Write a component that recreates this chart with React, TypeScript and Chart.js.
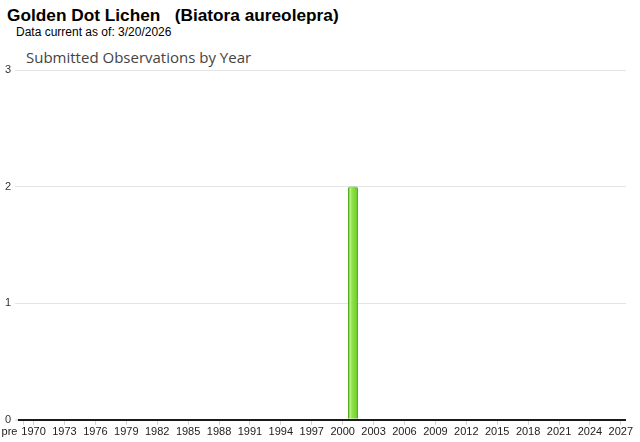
import React, { useEffect, useRef } from "react";
import { Chart, registerables } from "chart.js";

Chart.register(...registerables);

const pageTitle = "Golden Dot Lichen   (Biatora aureolepra)";
const dataNote = "Data current as of: 3/20/2026";
const chartTitle = "Submitted Observations by Year";

const categories = [
  "pre", "1970", "1971", "1972", "1973", "1974", "1975", "1976", "1977", "1978",
  "1979", "1980", "1981", "1982", "1983", "1984", "1985", "1986", "1987", "1988",
  "1989", "1990", "1991", "1992", "1993", "1994", "1995", "1996", "1997", "1998",
  "1999", "2000", "2001", "2002", "2003", "2004", "2005", "2006", "2007", "2008",
  "2009", "2010", "2011", "2012", "2013", "2014", "2015", "2016", "2017", "2018",
  "2019", "2020", "2021", "2022", "2023", "2024", "2025", "2026", "2027",
];

const observations = [
  0, 0, 0, 0, 0, 0, 0, 0, 0, 0,
  0, 0, 0, 0, 0, 0, 0, 0, 0, 0,
  0, 0, 0, 0, 0, 0, 0, 0, 0, 0,
  0, 0, 2, 0, 0, 0, 0, 0, 0, 0,
  0, 0, 0, 0, 0, 0, 0, 0, 0, 0,
  0, 0, 0, 0, 0, 0, 0, 0, 0,
];

const yTicks = [0, 1, 2, 3];

function labelShown(label: string): boolean {
  if (label === "pre") return true;
  const y = parseInt(label, 10);
  return (y - 1970) % 3 === 0;
}

function barFill(ctx: any) {
  const chart = ctx.chart;
  const xs = chart.scales && chart.scales.x;
  if (!xs || ctx.dataIndex == null) return "#80dc3c";
  const cx = xs.getPixelForValue(ctx.dataIndex);
  if (!isFinite(cx)) return "#80dc3c";
  const g = chart.ctx.createLinearGradient(cx - 5, 0, cx + 5, 0);
  g.addColorStop(0, "#5cbf1c");
  g.addColorStop(0.25, "#b4f27e");
  g.addColorStop(0.4, "#8fe24c");
  g.addColorStop(0.75, "#78d634");
  g.addColorStop(1, "#5cbf1c");
  return g;
}

export default function App() {
  const canvasRef = useRef<HTMLCanvasElement | null>(null);

  useEffect(() => {
    const canvas = canvasRef.current;
    if (!canvas) return;
    const chart = new Chart(canvas, {
      type: "bar",
      data: {
        labels: categories,
        datasets: [
          {
            data: observations,
            backgroundColor: barFill,
            borderColor: "#4eaa12",
            borderWidth: 1,
            borderRadius: { topLeft: 2, topRight: 2, bottomLeft: 0, bottomRight: 0 },
            borderSkipped: "bottom",
            barPercentage: 1,
            categoryPercentage: 0.97,
          },
        ],
      },
      options: {
        animation: false,
        responsive: false,
        maintainAspectRatio: false,
        layout: { padding: { left: 1, right: 14, top: 26, bottom: 2 } },
        plugins: {
          legend: { display: false },
          tooltip: { enabled: false },
          title: { display: false },
        },
        scales: {
          x: {
            type: "category",
            offset: true,
            border: { display: false },
            afterFit: (scale: any) => {
              scale.paddingLeft = 0;
              scale.paddingRight = 0;
            },
            grid: {
              offset: false,
              drawOnChartArea: false,
              drawTicks: true,
              tickLength: 5,
              color: (ctx: any) => {
                const lab = categories[ctx.index];
                return lab && labelShown(lab) ? "#d0d0d0" : "rgba(0,0,0,0)";
              },
            },
            ticks: {
              autoSkip: false,
              maxRotation: 0,
              minRotation: 0,
              padding: 1,
              color: "#222",
              font: { family: "Arial, 'Liberation Sans', sans-serif", size: 11 },
              callback: function (this: any, value: any, index: number) {
                const lab = categories[index];
                if (lab === "pre") return "pre         ";
                return labelShown(lab) ? lab : "";
              },
            },
          },
          y: {
            min: 0,
            max: 3,
            border: { display: false },
            afterBuildTicks: (scale: any) => {
              scale.ticks = yTicks.map((v) => ({ value: v }));
            },
            grid: {
              drawTicks: true,
              tickLength: 3,
              tickColor: "#e4e4e4",
              color: (ctx: any) => (ctx.tick && ctx.tick.value === 0 ? "#1a1a1a" : "#e4e4e4"),
              lineWidth: (ctx: any) => (ctx.tick && ctx.tick.value === 0 ? 2 : 1),
            },
            ticks: {
              padding: 4,
              color: "#333",
              font: { family: "Arial, 'Liberation Sans', sans-serif", size: 11 },
            },
          },
        },
      },
    });
    return () => chart.destroy();
  }, []);

  return (
    <div style={{ position: "absolute", left: 0, top: 0, width: 640, height: 442, background: "#fff", overflow: "hidden" }}>
      <div
        style={{
          position: "absolute", left: 7, top: 5, whiteSpace: "pre",
          font: "bold 17.25px Arial, 'Liberation Sans', sans-serif", color: "#000", lineHeight: "20px",
        }}
      >
        {pageTitle}
      </div>
      <div
        style={{
          position: "absolute", left: 16, top: 25, whiteSpace: "pre",
          font: "12px Arial, 'Liberation Sans', sans-serif", color: "#000", lineHeight: "14px",
        }}
      >
        {dataNote}
      </div>
      <div
        style={{
          position: "absolute", left: 26, top: 47, whiteSpace: "pre",
          font: "15px 'Open Sans', sans-serif", color: "#444", lineHeight: "20px",
        }}
      >
        {chartTitle}
      </div>
      <canvas
        ref={canvasRef}
        width={640}
        height={398}
        style={{ position: "absolute", left: 0, top: 44, width: 640, height: 398 }}
      />
    </div>
  );
}
